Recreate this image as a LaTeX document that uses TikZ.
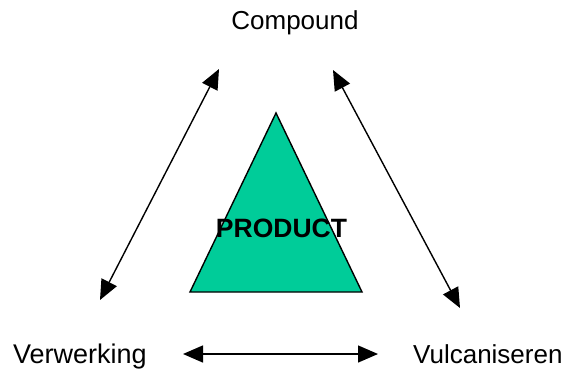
\documentclass[tikz,border=0pt]{standalone}
\usepackage{fontspec}
\setmainfont{Liberation Sans}
\usetikzlibrary{arrows.meta,positioning}
\definecolor{prodgreen}{RGB}{0,204,153}

\begin{document}
\begin{tikzpicture}[x=1pt,y=-1pt]
	\tikzstyle{lbl}=[inner sep=0pt, font=\fontsize{26}{30}\selectfont]
	\tikzstyle{dbl}=[{Triangle[length=20pt,width=17pt]}-{Triangle[length=20pt,width=17pt]}, line width=1.4pt]
	\useasboundingbox (0,0) rectangle (567,369);

	\node[lbl, anchor=base] (comp) at (295,30) {Compound};
	\node[lbl, font=\fontsize{27}{30}\selectfont, anchor=base west] (verw) at (13,363) {Verwerking};
	\node[lbl, anchor=base west] (vulc) at (413,363) {Vulcaniseren};

	\coordinate (top) at (276,113);
	\coordinate (bl) at (190,292);
	\coordinate (br) at (362,292);
	\draw[line width=1.4pt, fill=prodgreen] (top) -- (br) -- (bl) -- cycle;
	\node[lbl, font=\fontsize{26.5}{30}\selectfont\bfseries, anchor=base] (prod) at (281.5,237) {PRODUCT};

	\coordinate (lt) at (219,69);
	\coordinate (lb) at (100,300);
	\coordinate (rt) at (333,70);
	\coordinate (rb) at (460,308);
	\coordinate (bw) at (183,354);
	\coordinate (be) at (378,354);

	\draw[dbl] (lb) -- (lt);
	\draw[dbl] (rt) -- (rb);
	\draw[dbl] (bw) -- (be);
\end{tikzpicture}
\end{document}
